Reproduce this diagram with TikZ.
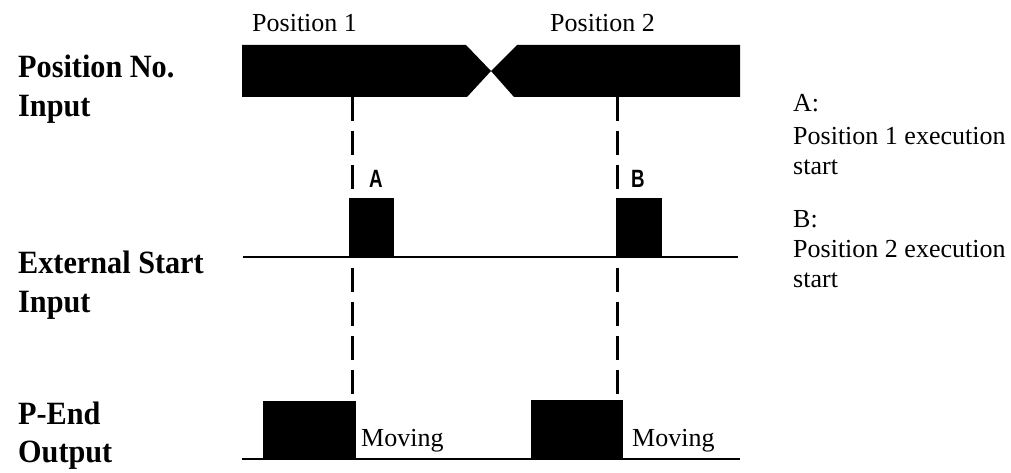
\documentclass[tikz,border=0pt]{standalone}
\usepackage{fontspec}
\usepackage{graphicx}
\setmainfont{Liberation Serif}
\newfontfamily\labsans{Liberation Sans}
\newcommand{\narrowtxt}[1]{\scalebox{0.93}[1]{#1}}
\tikzset{
  sig/.style={fill=black,draw=none},
  baseln/.style={line width=2pt},
  dashln/.style={line width=3pt,dash pattern=on 24pt off 10pt},
  rowlab/.style={anchor=base west,inner sep=0pt,font=\fontsize{32.5}{36}\selectfont\bfseries},
  plain/.style={anchor=base west,inner sep=0pt,font=\fontsize{26}{31}\selectfont},
  pt/.style={anchor=base west,inner sep=0pt,font=\labsans\bfseries\fontsize{25}{30}\selectfont},
}
\begin{document}
\begin{tikzpicture}[x=1pt,y=-1pt]
\useasboundingbox[fill=white] (0,0) rectangle (1011,473);
% left labels
\node[rowlab] (l1a) at (18,78) {\narrowtxt{Position No.}};
\node[rowlab] (l1b) at (18,117) {\narrowtxt{Input}};
\node[rowlab] (l2a) at (18,273) {\narrowtxt{External Start}};
\node[rowlab] (l2b) at (18,312) {\narrowtxt{Input}};
\node[rowlab] (l3a) at (18,424) {\narrowtxt{P-End}};
\node[rowlab] (l3b) at (18,462) {\narrowtxt{Output}};
% top labels
\node[plain] (p1) at (252,32) {Position 1};
\node[plain] (p2) at (550,32) {Position 2};
% position bus
\fill[sig] (242,45) -- (466,45) -- (491,71) -- (467,97) -- (242,97) -- cycle;
\fill[sig] (517,45) -- (740,45) -- (740,97) -- (514,97) -- (491,71) -- cycle;
% external start
\draw[baseln] (243,257) -- (738,257);
\fill[sig] (349,198) rectangle (394,257);
\fill[sig] (616,198) rectangle (662,257);
% p-end
\draw[baseln] (242,459) -- (740,459);
\fill[sig] (263,401) rectangle (356,459);
\fill[sig] (531,400) rectangle (623,459);
% dashed lines
\coordinate (a0) at (352,97);
\coordinate (a1) at (352,198);
\coordinate (a2) at (352,268);
\coordinate (a3) at (352,394);
\coordinate (b0) at (617.5,97);
\coordinate (b1) at (617.5,198);
\coordinate (b2) at (617.5,268);
\coordinate (b3) at (617.5,394);
\draw[dashln] (a0) -- (a1);
\draw[dashln] (a2) -- (a3);
\draw[dashln] (b0) -- (b1);
\draw[dashln] (b2) -- (b3);
% A B marks
\node[pt] (ma) at (369,188) {\scalebox{0.75}[1]{A}};
\node[pt] (mb) at (631,188) {\scalebox{0.75}[1]{B}};
% moving
\node[plain] (mv1) at (361,446) {Moving};
\node[plain] (mv2) at (632,446) {Moving};
% legend
\node[plain] (ra1) at (793,112) {A:};
\node[plain] (ra2) at (793,145) {Position 1 execution};
\node[plain] (ra3) at (793,175) {start};
\node[plain] (rb1) at (793,227) {B:};
\node[plain] (rb2) at (793,257) {Position 2 execution};
\node[plain] (rb3) at (793,287) {start};
\end{tikzpicture}
\end{document}
